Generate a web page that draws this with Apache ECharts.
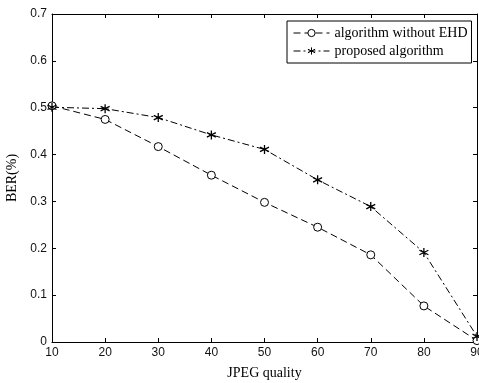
<!DOCTYPE html>
<html><head><meta charset="utf-8">
<script src="https://cdn.jsdelivr.net/npm/echarts@6/dist/echarts.min.js"></script>
<style>html,body{margin:0;padding:0;background:#fff}#c{width:479px;height:383px}</style>
</head><body><div id="c"></div>
<script>
const quality = [10, 20, 30, 40, 50, 60, 70, 80, 90];
const withoutEHD = [0.504, 0.475, 0.417, 0.356, 0.298, 0.245, 0.186, 0.077, 0.003];
const proposed = [0.501, 0.498, 0.479, 0.442, 0.411, 0.346, 0.289, 0.191, 0.012];
const seriesNames = ['algorithm without EHD', 'proposed algorithm'];

const chart = echarts.init(document.getElementById('c'));
const star = 'path://M0,-5L0,5M-4.5,-2.5L4.5,2.5M-4.5,2.5L4.5,-2.5';
const axisCommon = {
  min: 0, max: 0.7, interval: 0.1,
  axisLine: {show: true, onZero: false, lineStyle: {color: '#000', width: 1}},
  axisTick: {show: true, inside: true, length: 4, lineStyle: {color: '#000'}},
  splitLine: {show: false}
};
chart.setOption({
  animation: false,
  backgroundColor: '#fff',
  grid: {left: 52, right: 2, top: 14, bottom: 41, containLabel: false, outerBoundsMode: 'none'},
  legend: {
    orient: 'vertical', left: 287, top: 21, width: 186,
    itemWidth: 36, itemHeight: 9, itemGap: 4,
    padding: [5, 4, 5, 6],
    borderColor: '#000', borderWidth: 1, backgroundColor: '#fff',
    lineStyle: {width: 1},
    itemStyle: {borderWidth: 1},
    textStyle: {fontFamily: 'Liberation Serif', fontSize: 14, color: '#000'},
    data: seriesNames
  },
  xAxis: [{
    type: 'value', min: 10, max: 90, interval: 10,
    name: 'JPEG quality', nameLocation: 'middle', nameGap: 24,
    nameTextStyle: {fontFamily: 'Liberation Serif', fontSize: 14, color: '#000'},
    axisLine: {show: true, onZero: false, lineStyle: {color: '#000'}},
    axisTick: {show: true, inside: true, length: 4, lineStyle: {color: '#000'}},
    axisLabel: {fontFamily: 'Liberation Sans', fontSize: 12, color: '#111', margin: 5},
    splitLine: {show: false}
  }, {
    type: 'value', min: 10, max: 90, interval: 10, position: 'top',
    axisLine: {show: true, onZero: false, lineStyle: {color: '#000'}},
    axisTick: {show: true, inside: true, length: 4, lineStyle: {color: '#000'}},
    axisLabel: {show: false}, splitLine: {show: false}
  }],
  yAxis: [Object.assign({
    type: 'value', position: 'left',
    name: 'BER(%)', nameLocation: 'middle', nameGap: 29,
    nameTextStyle: {fontFamily: 'Liberation Serif', fontSize: 14, color: '#000'},
    axisLabel: {fontFamily: 'Liberation Sans', fontSize: 12, color: '#111', margin: 5,
      formatter: v => v === 0 ? '0' : v.toFixed(1)}
  }, axisCommon), Object.assign({
    type: 'value', position: 'right', axisLabel: {show: false}
  }, axisCommon)],
  series: [{
    name: seriesNames[0], type: 'line',
    data: quality.map((q, i) => [q, withoutEHD[i]]),
    symbol: 'circle', symbolSize: 8, showAllSymbol: true,
    itemStyle: {color: '#fff', borderColor: '#000', borderWidth: 1},
    lineStyle: {color: '#000', width: 1, type: [7, 4]}
  }, {
    name: seriesNames[1], type: 'line',
    data: quality.map((q, i) => [q, proposed[i]]),
    symbol: star, symbolSize: 9, showAllSymbol: true,
    itemStyle: {color: 'none', borderColor: '#000', borderWidth: 1.3},
    lineStyle: {color: '#000', width: 1, type: [7, 3, 2, 3]}
  }]
});
</script></body></html>
